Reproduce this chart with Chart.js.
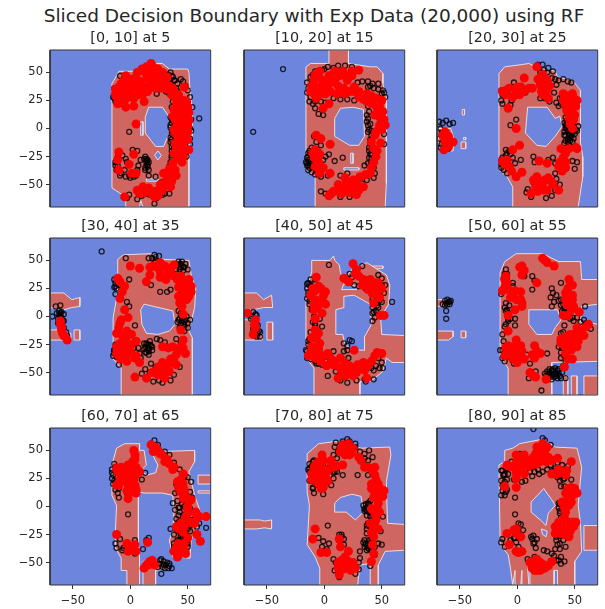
<!DOCTYPE html>
<html>
<head>
<meta charset="utf-8">
<script src="https://cdn.jsdelivr.net/npm/chart.js@4"></script>
<style>
  html, body { margin: 0; background: #fff; overflow: hidden; }
  #wrap { position: relative; width: 605px; height: 609px; }
  #suptitle { position: absolute; left: 14px; width: 600px; top: 5px; text-align: center; font: 18.5px "DejaVu Sans"; color: #262626; white-space: nowrap; }
  canvas { position: absolute; }
</style>
</head>
<body>
<div id="wrap"><div id="suptitle">Sliced Decision Boundary with Exp Data (20,000) using RF</div></div>
<script>
const panelTitles = ['[0, 10] at 5', '[10, 20] at 15', '[20, 30] at 25', '[30, 40] at 35', '[40, 50] at 45', '[50, 60] at 55', '[60, 70] at 65', '[70, 80] at 75', '[80, 90] at 85'];
const xTicks = [-50, 0, 50];
const yTicks = [-50, -25, 0, 25, 50];

// decision regions, flat x,y pairs in data units
const regions1 = [[-12,47,-10,51,8,51,13,58,28,58,34,53,50,53,51,50,52,34,54,16,54,-7,51,-13,51,-70,11,-70,9,-64,8,-70,-4,-70,-4,-61,-16,-53,-16,40]];
const holes1 = [[16,19,28,19,34,10,34,-4,29,-16,22,-16,13,-4,13,10],[9,6,11,6,11,-6,9,-6],[24,-20,27,-24,24,-28,21,-24],[14,-45,24,-45,24,-47,14,-47]];
const regions2 = [[4,70,21,70,21,58,40,55,46,55,51,49,51,40,54,28,54,-16,54,-49,53,-70,-8,-70,-8,-43,-16,-37,-16,55,-12,58,4,58]];
const holes2 = [[14,18,25,19,34,17,35,-7,30,-15,22,-15,9,-7,9,9],[23,-22,25,-22,25,-31,23,-31],[17,-35,30,-35,30,-37,17,-37]];
const regions3 = [[-16,49,-11,55,4,57,10,58,16,55,33,51,35,46,48,43,55,34,55,-13,57,-25,57,-43,53,-70,-4,-70,-4,-52,-9,-43,-16,-37],[-69,0,-58,0,-55,-10,-56,-20,-64,-20,-69,-12],[-48,17,-46,17,-46,12,-48,12],[-49,-12,-45,-12,-45,-18,-49,-18],[-47,-8,-45,-8,-45,-10,-47,-10]];
const holes3 = [[9,19,26,19,33,9,37,11,39,2,33,-7,25,-16,17,-15,7,-4]];
const regions4 = [[-11,51,-6,55,18,56,28,51,51,50,53,37,57,25,56,8,51,-13,54,-19,54,-70,-8,-70,-8,-46,-15,-38,-15,-1,-11,22],[-70,21,-58,21,-51,15,-44,17,-44,9,-51,8,-58,6,-70,8],[-70,-12,-62,-12,-52,-15,-52,-21,-70,-21],[-49,-12,-44,-12,-44,-21,-49,-21]];
const holes4 = [[12,11,37,5,39,-7,34,-13,24,-16,14,-15,10,-7,9,6]];
const regions5 = [[-11,50,5,50,8,54,9,50,13,46,14,39,17,33,25,43,37,48,54,37,57,28,56,11,49,-1,50,-16,70,-17,70,-41,59,-41,54,-37,51,-49,40,-58,31,-58,31,-70,-9,-70,-9,-46,-16,-37,-16,22,-11,40],[-70,21,-59,21,-53,15,-46,19,-45,8,-53,8,-62,6,-70,6],[-70,-3,-66,-3,-54,-16,-54,-21,-70,-21],[-50,-5,-45,-5,-45,-21,-50,-21],[42,45,51,45,51,43,42,43]];
const holes5 = [[17,18,26,19,40,11,41,-7,35,-18,35,-30,25,-30,18,-25,16,-16,10,-16,10,6,17,8],[15,24,28,24,28,27,17,29]];
const regions6 = [[-15,39,-11,49,-1,56,22,56,36,49,55,49,56,33,70,33,70,11,56,9,55,-5,65,-6,70,-7,70,-40,30,-41,30,-70,-8,-70,-8,-46,-15,-37],[-70,15,-59,15,-58,10,-70,9],[-70,-13,-56,-13,-56,-18,-60,-21,-70,-21],[-49,-13,-45,-13,-45,-19,-49,-19],[40,-53,44,-53,44,-70,40,-70],[47,-53,52,-53,52,-70,47,-70],[58,-53,70,-53,70,-70,58,-70]];
const holes6 = [[10,6,35,6,38,-3,33,-10,30,-16,17,-16,10,-7]];
const regions7 = [[-12,52,-5,56,8,56,8,50,12,50,14,37,9,32,14,28,22,30,24,37,20,45,18,55,25,49,56,50,56,40,51,31,56,10,60,-2,58,-20,53,-30,52,-46,37,-45,34,-30,37,-22,38,-5,37,10,28,12,12,12,7,13,7,-34,8,-45,8,-70,-3,-70,-3,-57,-8,-57,-8,-46,-13,-37,-13,-22,-12,1,-16,10,-16,37],[11,-49,31,-48,34,-55,22,-57,22,-70,11,-70],[59,28,70,28,70,20,59,20],[59,14,70,14,70,12,59,12]];
const holes7 = [];
const regions8 = [[-15,47,-5,56,10,58,32,52,57,53,58,46,54,22,55,-15,70,-16,70,-39,53,-40,47,-52,47,-70,40,-70,40,-51,31,-52,29,-70,-4,-70,-4,-55,-8,-45,-15,-34,-13,1,-15,13],[-70,-12,-56,-12,-52,-13,-46,-12,-46,-20,-52,-19,-59,-20,-70,-20]];
const holes8 = [[14,8,24,11,32,9,34,-5,27,-12,19,-5,9,-5,9,3]];
const regions9 = [[-11,50,-4,52,2,56,22,60,33,53,52,52,56,35,53,1,55,-15,56,-40,50,-49,50,-70,35,-70,35,-57,32,-57,32,-70,11,-70,11,-57,9,-55,10,-70,4,-70,4,-57,3,-70,-2,-70,-2,-57,-4,-70,-6,-55,-8,-43,-15,-34,-16,37,-11,40],[58,-17,70,-17,70,-39,58,-39]];
const holes9 = [[23,16,30,6,33,1,27,-6,25,-17,20,-12,12,-5,12,4],[21,-20,26,-22,25,-27,22,-25]];

// hollow black markers
const black1 = [-9,47,-1,-3,54,19,60,9,6,-63,21,-67,14,-31,15,-28,13,-35,15,-34,12,-27,16,-37,-14,36,-13,31,-14,27,-10,24,-6,26,-11,-26,-13,-33,-8,-40,-4,-43,0,-44,6,-37,-3,-30,2,-19,6,-20,-7,-24,9,-28,22,-43,27,-48,16,-42,35,50,37,46,39,43,41,40,34,44,31,33,36,30,26,38,23,31,20,44,37,24,36,19,41,33,44,44,48,38,52,28,36,8,35,3,36,-2,35,-8,37,-14,38,-18,36,-26,37,-34,35,-38,53,8,52,0,52,-9,49,-25,34,-58,23,-62,28,-59,10,-60,5,-55,-1,-59,-3,-62,32,-47,33,48,36,47,38,43,35,40,33,37,40,36,36,33,34,31,38,30,35,10,36,5,35,1,36,-5,36,-10,35,-12,36,-16,36,-20,36,-24,35,-30,34,-34,33,-38,30,-40,-13,-30,-11,-33,-12,-37,-9,-42,-5,-37,-4,-27,-1,-42,3,-43,5,-42,7,-33,13,-25,14,-29,16,-30,15,-32,13,-37,14,-27,-13,24,-15,28,-8,22,10,-55,14,-58,17,-59,30,-58,52,-14,53,-2,50,34,46,42];
const black2 = [-36,53,-62,-3,16,-26,9,-29,-2,52,3,55,-8,51,-12,46,-15,41,-15,32,-13,24,-8,18,-5,13,-1,12,1,23,8,27,14,26,20,26,26,25,29,41,33,42,38,42,42,40,47,40,51,34,53,28,37,12,38,9,40,4,39,-1,41,-6,40,-10,41,-15,42,-18,40,-23,41,-27,38,-31,35,-33,43,-35,44,-40,-7,-12,-9,-7,-11,-17,-14,-22,-14,-28,-15,-31,-14,-33,-13,-35,-11,-39,-5,-41,-1,-28,-3,-15,1,-25,4,-23,-3,-56,1,-58,14,-61,22,-61,28,-57,33,-49,37,-46,43,-44,14,-42,20,-40,52,3,52,-5,52,-14,0,53,8,54,12,56,18,56,24,55,26,52,-4,50,-10,48,-14,36,-12,28,-8,24,-10,22,-3,24,38,37,40,38,43,36,47,35,50,31,52,32,38,20,39,15,37,6,38,3,38,-3,41,-2,40,-13,39,-17,39,-20,41,-22,39,-26,41,-30,41,-32,-15,-26,-16,-30,-15,-33,-14,-25,-13,-30,-14,-37,-12,-23,-10,-30,-13,-20,-11,-25,-12,-31,-8,-41,-3,-43,3,-42];
const black3 = [-68,6,-65,5,-62,7,-59,4,-56,5,-67,0,-66,-4,-68,-9,-66,-14,-67,-17,-60,-18,-1,8,-6,3,-7,-20,-10,-24,-13,-26,-14,-32,-12,-37,-8,-31,-2,-31,3,-28,14,-25,15,-30,27,-28,31,-26,33,-31,-14,34,-14,25,-13,22,-6,21,-3,41,1,36,7,32,18,57,22,57,27,54,31,51,27,40,33,44,36,43,40,44,44,42,47,41,28,24,34,23,37,27,36,20,44,15,44,6,42,3,42,0,41,-3,42,-6,44,-9,46,-11,48,-5,49,-9,51,-1,53,2,52,-2,42,-11,45,-14,47,-3,47,-7,45,2,48,-29,52,-30,50,-36,33,-40,14,-48,9,-54,8,-57,30,-60,25,-62,37,-50,12,-61,43,30,39,28,38,22,41,20,42,10,43,7,41,5,43,1,44,-2,45,-5,46,-8,44,-12,41,-13,47,0,49,-2,50,-5,43,3,45,-6,41,-6,46,-1,49,2,48,-12,20,50,23,52,26,50,30,45,34,39,32,32,24,27,20,27,-13,30,-8,30,-6,33,-5,25,-12,-28,-14,-28,-12,-32,-14,-35,-9,-22,-6,-23,-10,-19,-4,-26,-9,-40,34,-45,33,-55];
const black4 = [-25,58,-68,0,-64,3,-61,10,-65,9,-62,5,-61,0,-63,-2,-60,-3,-62,-5,-58,-4,-58,-10,-55,-17,-4,52,21,55,22,53,19,52,25,54,-1,33,-13,30,-14,26,-10,30,-13,20,-3,13,-1,9,4,-8,-14,-33,-14,-30,-13,-25,3,-28,7,-28,8,-33,9,-37,12,-24,14,-24,15,-28,16,-31,18,-26,13,-32,19,-30,16,-34,17,-22,30,-23,40,-20,44,-23,45,-1,44,3,42,-3,47,-5,49,0,50,-6,47,-9,44,-7,43,-10,52,-3,43,47,44,44,46,41,48,47,47,44,50,42,18,28,26,22,32,22,35,24,13,-47,10,-51,17,-50,20,-58,25,-57,28,-59,35,-57,38,-52,22,-45,18,-42,43,-45,40,42,42,49,43,42,44,47,46,44,40,46,41,46,45,49,22,50,16,52,21,48,-14,33,-13,27,-9,28,-12,25,-8,-24,-14,-30,-15,-35,-12,-36,-10,-43,43,-2,45,-4,46,-7,41,-5,48,-3,44,1,42,5,50,-10,45,-11,47,-13,13,-27,15,-25,12,-29,17,-25,19,-27,14,-32,16,-29,-61,3,-60,-1,-59,-4,-63,-6,-62,2,-60,4,-58,2,-56,-14,23,-20,26,-21];
const black5 = [4,46,33,45,59,13,-2,-9,-8,-6,24,-22,17,-24,20,-30,3,-53,43,-48,50,-41,-62,4,-64,-2,-60,-5,-58,-8,-60,-12,-56,-18,-59,-18,-58,-15,-14,30,-12,33,-15,25,-14,22,-8,29,-13,14,-8,8,-4,-2,-8,-8,-12,-14,-14,-25,-15,-31,-12,-38,-8,-40,-5,-42,1,-40,8,-31,20,-26,22,-21,17,-31,21,-37,50,13,47,8,46,10,45,5,42,3,44,-1,42,-4,48,21,52,21,53,28,50,34,47,37,24,35,22,38,26,28,30,27,36,25,43,-36,47,-37,51,-46,48,-46,43,-56,36,-58,20,-59,14,-57,10,-49,-13,28,-15,29,-12,27,-14,19,-15,16,-13,11,-11,6,-9,0,-10,-5,-13,-20,-14,-22,-16,-30,-15,-37,-11,-35,-7,-42,-2,-43,3,-43,45,12,42,15,42,8,47,25,50,28,44,30,43,4,48,14,33,33,22,30,-60,2,-59,1,-57,-13,-60,-16,-62,-11,-61,-6,-56,-14,-63,0,41,-46,35,-56,28,-57,45,-44];
const black6 = [-62,12,-59,13,-63,10,-61,15,-59,11,-65,11,-62,5,-62,-2,-9,38,-9,33,-4,30,-4,27,-10,12,-7,10,-10,5,-8,3,-6,-2,-2,-2,-2,-8,-8,-4,-10,-7,13,36,15,32,6,36,13,24,30,25,31,21,29,17,32,13,30,9,34,19,38,30,36,14,38,10,41,4,42,0,46,-2,49,-4,52,-1,59,9,58,-3,64,-11,41,-8,40,-14,39,-28,38,-37,42,-40,40,-44,-8,-28,-12,-22,-13,-30,-7,-36,-3,-42,8,-34,26,-33,11,-42,10,-55,16,-49,21,-66,26,-49,28,-47,30,-52,32,-54,34,-51,36,-50,38,-55,42,-55,24,-51,27,-54,31,-49,30,-56,35,-55,28,-50,29,-54,31,-47,33,-50,35,-48,37,-53,30,-48,27,-52,34,-53,36,-47,32,-51,39,-50,33,-46,25,-53,-11,38,-10,42,-12,34,-14,20,-11,8,-9,6,-8,-2,-11,-9,-13,-16,-15,-30,-13,-37,-11,-40,38,15,40,11,41,7,39,5,43,3,38,-15,39,-20,37,-22,38,-32,41,-35,36,-27,48,-1,55,-5,60,-6,-60,13,-63,14,-61,11,-58,14];
const black7 = [21,59,-2,-7,66,-19,27,-60,11,-38,14,-30,16,-28,37,3,35,-20,31,-52,33,-55,29,-49,25,-51,27,-47,24,-54,34,-51,-16,33,-15,28,-14,23,-16,25,-13,15,-11,12,-10,8,-3,12,-8,30,10,24,13,30,-13,-33,-12,-37,-9,-29,-7,-39,-3,-38,4,-30,18,56,24,55,30,49,34,46,38,39,43,33,47,26,50,26,53,22,52,13,47,10,54,8,50,3,45,2,42,-1,43,-5,46,-8,53,-8,55,-12,48,-11,52,-17,44,-14,46,-12,50,-15,42,-22,38,-25,44,-28,52,-22,58,-18,60,-15,38,-33,42,-31,45,-29,50,-33,37,-40,43,-44,50,-36,40,20,42,13,39,12,41,5,43,-1,39,-3,42,-8,40,-11,42,-14,40,-20,47,0,52,-2,49,-5,47,-12,50,-20,46,-14,44,-26,46,-28,48,-26,41,-30,42,-38,38,-36,49,-31,29,-52,32,-50,26,-48,34,-53,30,-55,28,-54,36,-55,-14,38,-16,30,-13,35,-15,20,-12,22,-10,16,-11,19,-3,-40,-6,-37,4,-42];
const black8 = [-9,12,3,-17,29,28,16,28,-1,-31,13,-25,15,-25,17,-29,-14,33,-13,38,-9,41,-5,36,-13,23,-10,17,-9,22,-1,11,6,19,8,25,9,31,11,43,8,46,10,57,20,60,27,56,31,44,35,47,39,50,42,44,38,41,38,28,36,2,37,-1,35,-4,39,-5,37,-8,39,2,40,5,41,-12,37,-17,37,-20,51,-9,49,-22,39,-30,36,-34,38,-37,35,-36,41,-29,47,-33,50,-34,41,-39,8,-47,31,-46,30,-50,30,-56,9,-57,13,-63,27,-60,10,-50,-2,-36,2,-38,4,-33,44,-43,40,-53,12,49,9,53,27,53,22,58,16,58,31,49,35,43,-13,34,-11,36,-13,31,-7,31,-10,40,3,38,8,30,11,31,-10,16,38,-1,37,-4,41,-6,40,-9,36,-3,38,3,34,1,35,-2,38,-15,40,-18,37,-24,35,-30,38,-35,40,-33,42,-29,36,-33,34,-32,39,-38,37,-39,31,-40,44,-36,-5,-28,13,-30,15,-27,17,-34];
const black9 = [14,69,-2,-7,-2,8,23,-39,-13,14,-14,10,-11,10,-14,32,-12,28,-9,24,-8,29,-11,22,-10,13,-3,24,4,22,7,23,13,27,19,29,22,31,21,52,24,59,22,61,29,55,35,39,39,37,44,36,41,25,38,18,47,24,42,-2,37,-4,36,3,38,-10,39,-16,35,-20,37,-26,40,-30,42,-36,37,-38,38,-45,41,-49,36,-48,30,-42,26,-40,-13,-29,-14,-32,-11,-36,-6,-30,-2,-24,-3,-28,-1,-32,1,-36,5,-21,-1,-22,13,-29,15,-32,14,-26,16,-37,10,-50,15,-45,9,-47,3,-16,1,-15,-13,32,-12,28,-14,23,-11,29,-9,34,-13,19,-9,15,-5,40,2,47,10,35,11,31,15,31,18,33,26,33,29,37,31,32,33,34,38,33,35,26,40,24,37,23,41,18,37,2,37,-6,36,-1,41,-11,42,-3,37,-15,34,-30,35,-34,37,-33,34,-27,33,-38,32,-44,34,-48,38,-51,30,-50,1,-25,-2,-28,14,-33,12,-27,17,-29];

// solid red markers
const red1 = [10,53,14,55,18,58,20,55,24,53,28,50,18,50,22,47,14,48,26,45,30,42,34,38,38,34,42,30,45,25,-4,47,5,46,1,44,-10,37,-12,28,-8,33,-2,36,2,36,8,36,14,37,-4,19,3,20,-2,28,3,27,12,24,19,37,25,43,31,41,37,36,47,37,39,28,47,25,50,19,37,11,44,13,48,12,41,3,47,3,50,-3,39,-4,45,-7,50,-10,39,-13,45,-15,51,-19,38,-22,44,-22,37,-31,45,-30,39,-37,34,-43,29,-40,8,-58,11,-52,16,-53,22,-56,28,-55,35,-52,21,-61,-5,-61,-10,-21,-11,-28,3,-23,-1,-32,-10,-37,1,-40,5,-40,5,4,6,50,12,51,16,53,20,51,24,49,28,46,32,46,16,44,20,41,9,42,5,40,-2,41,-6,42,-8,40,-13,35,-13,31,-9,28,-11,22,-5,32,-5,25,0,32,7,30,11,31,15,33,22,36,27,36,32,35,36,30,42,26,40,22,44,20,49,24,42,17,38,17,46,17,51,14,39,8,43,8,47,8,51,7,38,-1,42,-1,46,-1,50,2,42,-10,47,-11,40,-17,47,-20,41,-26,46,-25,34,-36,40,-42,36,-47,31,-47,26,-50,18,-58,12,-57,24,-60,30,-51,6,-55];
const red2 = [-4,51,9,51,16,51,30,52,24,51,-9,43,-1,43,9,43,20,43,-12,33,-7,36,2,37,11,31,17,36,26,37,-7,27,4,22,-1,18,18,31,30,33,37,31,37,24,45,27,50,25,46,18,51,15,49,9,52,8,50,-1,44,-6,41,-12,49,-13,46,-20,43,-30,40,-40,31,-43,25,-46,18,-44,12,-50,8,-56,4,-60,15,-58,23,-55,28,-59,34,-52,18,-50,-7,-6,-3,-9,5,-14,-8,-19,-4,-23,-9,-26,-8,-34,-1,-35,5,-40,-4,-40,-8,48,-5,46,-3,38,4,47,13,47,18,47,24,47,6,41,12,38,-11,38,-9,31,-3,31,1,31,5,33,22,33,26,33,30,28,34,26,41,29,41,22,48,20,47,14,44,12,53,3,48,3,45,-3,43,-18,45,-25,41,-35,36,-41,28,-47,21,-50,15,-52,22,-57,11,-56,18,-56,6,-58,30,-55,26,-52,-6,-21,-7,-28,-5,-30,-10,-22,-3,-37];
const red3 = [-63,-3,-60,-7,-63,-12,-59,-13,-62,-16,-56,-12,-64,-19,17,55,6,45,22,48,26,43,20,39,26,34,13,36,6,33,0,37,-7,36,-13,33,-4,28,2,30,-8,18,-1,0,22,30,27,27,40,31,48,31,52,25,40,25,48,18,45,9,49,8,48,0,52,-18,45,-18,38,-18,40,-26,36,-34,42,-35,2,-15,-4,-19,-13,-29,-7,-34,-1,-43,4,-39,19,-29,26,-31,17,-43,27,-44,22,-49,16,-52,12,-58,26,-55,36,-55,23,44,21,33,24,38,18,44,28,38,10,36,3,37,-10,34,-10,30,-1,33,44,29,45,22,51,20,45,14,50,12,46,4,51,-17,42,-22,42,-30,37,-30,39,-38,20,-47,14,-46,24,-46,30,-48,18,-56,23,-55,31,-50,-11,-32,-5,-38,-9,-28,-63,-8,-60,-16,-65,-6,43,26,49,27,43,16,42,21];
const red4 = [-61,-7,-60,-12,-59,-15,-57,-18,-55,-21,0,45,8,43,14,31,20,45,17,37,26,48,26,40,33,43,38,46,31,33,38,36,46,30,51,33,53,22,46,21,49,15,43,12,46,2,44,-12,-11,34,-5,27,-9,16,-5,6,-2,-1,-9,-6,-12,-15,-3,-13,1,-16,5,-22,-12,-27,-6,-28,0,-31,-10,-35,-3,-40,4,-37,8,-41,4,-54,28,-27,37,-27,46,-21,48,-33,40,-34,28,-41,34,-49,30,-55,24,-52,19,-50,14,-55,40,-43,23,44,30,45,35,40,26,35,33,37,41,33,44,36,49,25,42,26,48,28,53,27,45,16,51,18,42,18,45,9,17,44,-9,-24,-12,-33,-8,-32,-3,-34,-5,-25,-8,-38,1,-25,5,-35,-10,-10,-4,-20,-7,-17,-8,-3,33,-28,44,-27,42,-30,46,-28,35,-38,33,-44,38,-37,28,-48,24,-45,-9,31,-7,22,-60,-9,-58,-17,-61,-4];
const red5 = [-67,3,-60,-3,-60,-10,-62,-16,25,47,28,42,30,36,34,33,17,34,21,31,40,33,47,30,38,24,46,22,50,25,43,12,49,1,52,1,-7,35,-5,27,-12,19,1,22,-1,18,-8,15,1,11,-9,6,-2,3,-8,-2,-5,-15,-11,-19,-4,-24,-11,-27,-14,-35,-7,-34,-1,-35,2,-44,6,-38,14,-37,14,-46,12,-55,20,-49,25,-53,31,-46,37,-55,38,-44,44,-35,50,-33,26,-30,27,38,33,28,36,29,42,26,44,30,42,20,48,17,-8,23,-10,25,-3,25,-4,12,-9,11,-6,8,-8,-12,-7,-20,-9,-30,-5,-29,-12,-32,-3,-40,-8,-37,3,-33,10,-40,18,-42,18,-53,24,-48,15,-52,28,-50,29,-43,35,-48,34,-41,41,-40,22,-44,17,-47,8,-43,46,-32,-61,-7];
const red6 = [22,52,26,48,32,45,4,45,4,37,-10,36,-10,30,-13,23,-8,24,-4,19,3,22,3,15,4,9,-2,6,-8,1,-8,-13,17,30,45,33,48,28,42,21,48,19,42,15,49,9,54,4,40,1,44,1,62,-7,56,-13,49,-16,42,-18,38,-24,46,-24,53,-22,42,-33,48,-38,-1,-21,-8,-30,-11,-35,-1,-32,4,-31,0,-41,6,-38,15,-26,13,-34,17,-31,14,-53,25,-56,41,-45,24,50,6,41,2,44,-11,33,-11,26,-6,17,-1,15,-2,23,4,12,-9,30,46,28,44,25,48,15,43,11,47,6,60,-9,52,-10,58,-17,47,-19,52,-18,43,-24,46,-16,42,-27,47,-30,38,-20,44,-38,52,-27,50,-23,-3,-27,-8,-26,-6,-34,-4,-38,1,-36,-10,-28,3,-26,-5,-31,16,-54,11,-50,20,-33,15,-37];
const red7 = [4,46,2,40,-12,34,-8,35,-2,37,5,35,-12,19,-6,23,1,26,5,29,8,31,-2,20,4,19,1,13,5,12,-2,7,-12,-25,-3,-33,4,-34,-2,-40,5,-40,15,-32,18,55,22,53,24,50,28,46,30,40,34,38,38,35,46,29,41,22,46,20,44,13,46,7,53,6,50,0,50,-6,57,-5,60,-9,66,-9,56,-15,47,-18,40,-18,46,-23,58,-25,61,-31,50,-28,47,-33,40,-36,46,-37,48,-42,41,-45,12,-55,17,-49,21,-52,14,-52,3,50,4,42,-11,31,-8,32,-3,31,2,32,-9,24,-4,27,-2,25,3,24,-10,19,0,16,5,15,-3,14,20,49,26,47,32,42,37,33,42,17,44,24,47,15,49,8,50,-2,48,-10,44,-15,42,-20,53,-14,58,-8,38,-40,45,-41,42,-33,-1,-36,3,-39,16,-52,19,-48];
const red8 = [16,55,21,56,25,52,19,49,22,46,15,52,32,41,35,35,44,35,-2,46,6,41,8,35,16,37,-8,37,-2,34,3,32,-11,29,-8,23,-2,26,3,23,-1,17,44,28,41,20,47,20,52,14,44,12,51,9,47,3,41,-2,48,-5,45,-12,40,-15,47,-20,41,-23,43,-27,42,-34,43,-42,41,-49,-8,-20,-10,-29,13,-29,14,-36,-3,-41,2,-41,21,-40,15,-48,21,-49,12,-55,19,-55,27,-55,13,-61,18,52,22,52,18,46,14,49,24,48,30,44,38,35,-5,40,-1,41,-9,34,-5,34,-8,27,-5,29,-11,24,-5,20,0,21,-3,16,1,27,6,37,11,36,42,32,45,24,41,16,47,15,43,8,50,15,48,10,46,-1,44,-6,44,-18,43,-20,45,-8,14,-51,18,-52,22,-52,16,-56,23,-57,25,-50,12,-50,18,-45];
const red9 = [22,56,17,53,26,53,16,47,22,47,27,44,-1,46,6,46,10,41,4,37,17,38,25,40,35,43,47,40,-9,37,-3,35,6,29,30,29,39,31,43,32,-1,25,-11,18,-1,17,47,17,52,12,42,12,39,4,47,4,42,-5,48,-14,36,-14,42,-20,33,-18,49,-18,37,-24,45,-27,-1,-20,-9,-24,3,-27,-1,-40,4,-40,-7,-34,13,-49,17,-52,23,-52,30,-49,15,-57,20,-57,19,50,24,50,19,44,14,44,24,44,30,41,20,40,13,37,6,40,-1,39,1,43,-7,36,-1,30,3,33,10,36,34,29,36,33,42,28,47,14,44,16,50,16,44,7,48,10,41,-1,45,1,41,-10,46,-14,51,-14,38,-17,44,-18,46,-22,41,-25,33,-24,36,-19,-3,-21,-1,-24,17,-47,20,-50,24,-55,27,-53,11,-50,13,-55,17,-57,1,-41];

const allRegions = [regions1, regions2, regions3, regions4, regions5, regions6, regions7, regions8, regions9];
const allHoles = [holes1, holes2, holes3, holes4, holes5, holes6, holes7, holes8, holes9];
const allBlack = [black1, black2, black3, black4, black5, black6, black7, black8, black9];
const allRed = [red1, red2, red3, red4, red5, red6, red7, red8, red9];

const plotLefts = [50, 244, 437];
const plotTops = [50, 238, 428];
const plotW = 162, plotH = 157, marginL = 45, marginT = 24, marginB = 22;

const BLUE = '#6e85de', RED = '#cf6661', EDGE = '#e9dcdf', INK = '#333333';

function pairs(flat) {
    const out = [];
    for (let i = 0; i < flat.length; i += 2) out.push({ x: flat[i], y: flat[i + 1] });
    return out;
}
function closed(flat) {
    const p = pairs(flat);
    p.push(p[0]);
    return p;
}
function area(flat, color, edge, order) {
    return {
        data: closed(flat), showLine: true, fill: 'shape', tension: 0,
        backgroundColor: color, borderColor: edge, borderWidth: edge ? 1 : 0,
        pointRadius: 0, order,
    };
}
const minus = v => String(v).replace('-', '\u2212');

panelTitles.forEach((title, i) => {
    const col = i % 3, row = Math.floor(i / 3);
    const canvas = document.createElement('canvas');
    canvas.width = plotW + marginL + 4;
    canvas.height = plotH + marginT + marginB;
    canvas.style.left = (plotLefts[col] - marginL) + 'px';
    canvas.style.top = (plotTops[row] - marginT) + 'px';
    document.getElementById('wrap').appendChild(canvas);

    const box = [-70, -70, 70, -70, 70, 70, -70, 70];
    const datasets = [area(box, BLUE, null, 9)];
    allRegions[i].forEach(r => datasets.push(area(r, RED, EDGE, 8)));
    allHoles[i].forEach(h => datasets.push(area(h, BLUE, EDGE, 7)));
    datasets.push({
        data: pairs(allBlack[i]), pointRadius: 2.5, pointBorderWidth: 1.3,
        pointBackgroundColor: 'transparent', pointBorderColor: 'rgba(0,0,0,0.8)', order: 6,
    });
    datasets.push({
        data: pairs(allRed[i]), pointRadius: 4.5, pointBorderWidth: 0,
        pointBackgroundColor: '#ff0000', order: 5,
    });
    datasets.push({
        data: closed(box), showLine: true, fill: false, tension: 0, borderColor: INK, borderWidth: 1,
        pointRadius: 0, clip: false, order: 1,
    });

    new Chart(canvas, {
        type: 'scatter',
        data: { datasets },
        options: {
            responsive: false,
            animation: false,
            layout: { padding: { left: 0, right: 4, top: 0, bottom: 0 } },
            plugins: {
                legend: { display: false },
                tooltip: { enabled: false },
                title: {
                    display: true, text: title, fullSize: false, color: '#262626',
                    font: { family: 'DejaVu Sans', size: 14.3, weight: 'normal' },
                    padding: { top: 4, bottom: 2.84 },
                },
            },
            scales: {
                x: {
                    min: -70, max: 70,
                    grid: { display: row === 2, drawOnChartArea: false, tickLength: 4, tickColor: INK },
                    border: { display: false },
                    ticks: {
                        display: row === 2, maxRotation: 0, padding: 5, color: '#262626',
                        font: { family: 'DejaVu Sans', size: 11.5 }, callback: minus,
                    },
                    afterBuildTicks: s => { s.ticks = xTicks.map(value => ({ value })); },
                    afterFit: s => { s.height = marginB; },
                },
                y: {
                    min: -70, max: 70,
                    grid: { display: col === 0, drawOnChartArea: false, tickLength: 4, tickColor: INK },
                    border: { display: false },
                    ticks: {
                        display: col === 0, padding: 3, color: '#262626',
                        font: { family: 'DejaVu Sans', size: 11.5 }, callback: minus,
                    },
                    afterBuildTicks: s => { s.ticks = yTicks.map(value => ({ value })); },
                    afterFit: s => { s.width = marginL; },
                },
            },
        },
    });
});
</script>
</body>
</html>
